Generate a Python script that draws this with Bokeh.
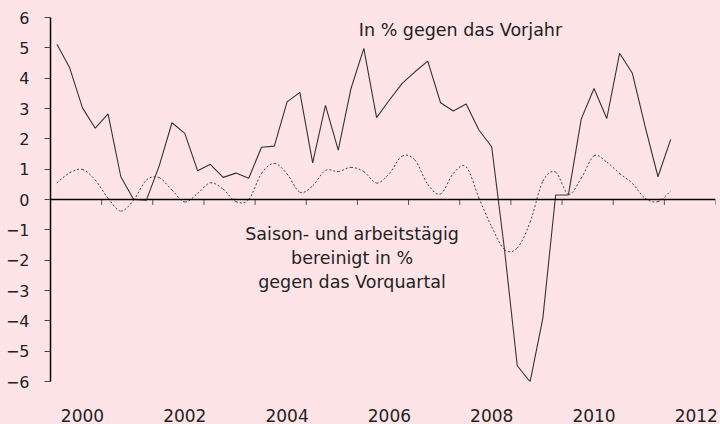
from bokeh.plotting import figure
from bokeh.models import (ColumnDataSource, FixedTicker, Span, GlobalInlineStyleSheet)
from bokeh.core.properties import value
from bokeh.embed import file_html
from bokeh.resources import INLINE

# ---- data (quarterly, 1999Q3 .. 2011Q3) ----
quarters = [f"{1999 + (i + 2) // 4}Q{(i + 2) % 4 + 1}" for i in range(49)]

# In % gegen das Vorjahr
yoy = [5.12, 4.34, 3.02, 2.35, 2.82, 0.75, 0.00, -0.02, 1.11, 2.53, 2.18, 0.95, 1.16, 0.73, 0.87,
       0.70, 1.72, 1.76, 3.22, 3.53, 1.21, 3.10, 1.63, 3.66, 4.98, 2.70, 3.28, 3.83, 4.21, 4.56,
       3.19, 2.92, 3.15, 2.29,
       1.74, -1.65, -5.48, -6.01, -3.91, 0.15, 0.15, 2.65, 3.66, 2.67, 4.82, 4.16, 2.40, 0.75, 1.98]

# Saison- und arbeitstaegig bereinigt in % gegen das Vorquartal
qoq = [0.55, 0.88, 0.99, 0.64, 0.04, -0.38, -0.02, 0.64, 0.72, 0.31, -0.08, 0.20, 0.55, 0.34, -0.07,
       0.00, 0.86, 1.19, 0.84, 0.24, 0.45, 0.96, 0.92, 1.06, 0.92, 0.54, 0.86, 1.43, 1.30, 0.50,
       0.18, 0.86, 1.08, 0.05,
       -0.90, -1.65, -1.60, -0.75, 0.60, 0.90, 0.17, 0.70, 1.44, 1.23, 0.86, 0.53, 0.04, -0.07, 0.28]

x_tick_years = [2000, 2002, 2004, 2006, 2008, 2010, 2012]
y_ticks = list(range(-6, 7))

label_top = "In % gegen das Vorjahr"
label_bottom = ["Saison- und arbeitstägig", "bereinigt in %", "gegen das Vorquartal"]

# ---- derived positions ----
xq = [int(q[:4]) + (int(q[-1]) - 1) / 4 for q in quarters]
boundaries = [1999.375 + k for k in range(1, 14)]

BG = "#fee4e7"
FONT = "DejaVu Sans"
TXT = "#222222"

p = figure(width=720, height=424, output_backend="svg", toolbar_location=None,
           x_range=(1999.375, 2012.375), y_range=(-6, 6),
           min_border_left=50, min_border_right=5, min_border_top=17, min_border_bottom=43)
p.stylesheets = [GlobalInlineStyleSheet(css=f"html, body {{ margin: 0; padding: 0; background: {BG}; overflow: hidden; }}")]
p.background_fill_color = BG
p.border_fill_color = BG
p.outline_line_color = None
p.grid.visible = False

# y axis
ya = p.yaxis[0]
ya.ticker = FixedTicker(ticks=y_ticks)
ya.axis_line_color = "black"
ya.axis_line_width = 1.5
ya.major_tick_out = 6
ya.major_tick_in = 0
ya.major_tick_line_color = "#444444"
ya.major_tick_line_width = 1
ya.minor_tick_line_color = None
ya.major_label_standoff = 15
ya.major_label_text_font = FONT
ya.major_label_text_font_size = "16px"
ya.major_label_text_color = TXT

# x axis (labels only)
xa = p.xaxis[0]
xa.ticker = FixedTicker(ticks=x_tick_years)
xa.axis_line_color = None
xa.major_tick_line_color = None
xa.minor_tick_line_color = None
xa.major_label_standoff = 21
xa.major_label_text_font = FONT
xa.major_label_text_font_size = "17px"
xa.major_label_text_color = TXT

# zero line with year tick marks
p.add_layout(Span(location=0, dimension="width", line_color="black", line_width=1.5))
p.segment(x0=boundaries, x1=boundaries, y0=[0] * len(boundaries), y1=[-0.18] * len(boundaries),
          line_color="#555555", line_width=1)

# solid line: yoy
p.line(xq, yoy, line_color="#333333", line_width=1.1)

# dotted smoothed line: qoq (Catmull-Rom -> Bezier)
n = len(qoq)
x0, y0, x1, y1, cx0, cy0, cx1, cy1 = ([] for _ in range(8))
for i in range(n - 1):
    a = i - 1 if i > 0 else i
    d = i + 2 if i + 2 < n else i + 1
    x0.append(xq[i]); y0.append(qoq[i])
    x1.append(xq[i + 1]); y1.append(qoq[i + 1])
    cx0.append(xq[i] + (xq[i + 1] - xq[a]) / 6); cy0.append(qoq[i] + (qoq[i + 1] - qoq[a]) / 6)
    cx1.append(xq[i + 1] - (xq[d] - xq[i]) / 6); cy1.append(qoq[i + 1] - (qoq[d] - qoq[i]) / 6)
src = ColumnDataSource(dict(x0=x0, y0=y0, x1=x1, y1=y1, cx0=cx0, cy0=cy0, cx1=cx1, cy1=cy1))
p.bezier(x0="x0", y0="y0", x1="x1", y1="y1", cx0="cx0", cy0="cy0", cx1="cx1", cy1="cy1",
         source=src, line_color="#444444", line_width=1, line_dash="2 2")

# annotations
p.text(x=[2007.39], y=[5.6], text=[label_top], text_font=value(FONT), text_font_size="17.5px",
       text_align="center", text_baseline="middle", text_color=TXT)
p.text(x=[2005.27] * 3, y=[-1.15, -1.93, -2.72], text=label_bottom, text_font=value(FONT),
       text_font_size="17.5px", text_align="center", text_baseline="middle", text_color=TXT)

open("out.html", "w").write(file_html(p, INLINE))
